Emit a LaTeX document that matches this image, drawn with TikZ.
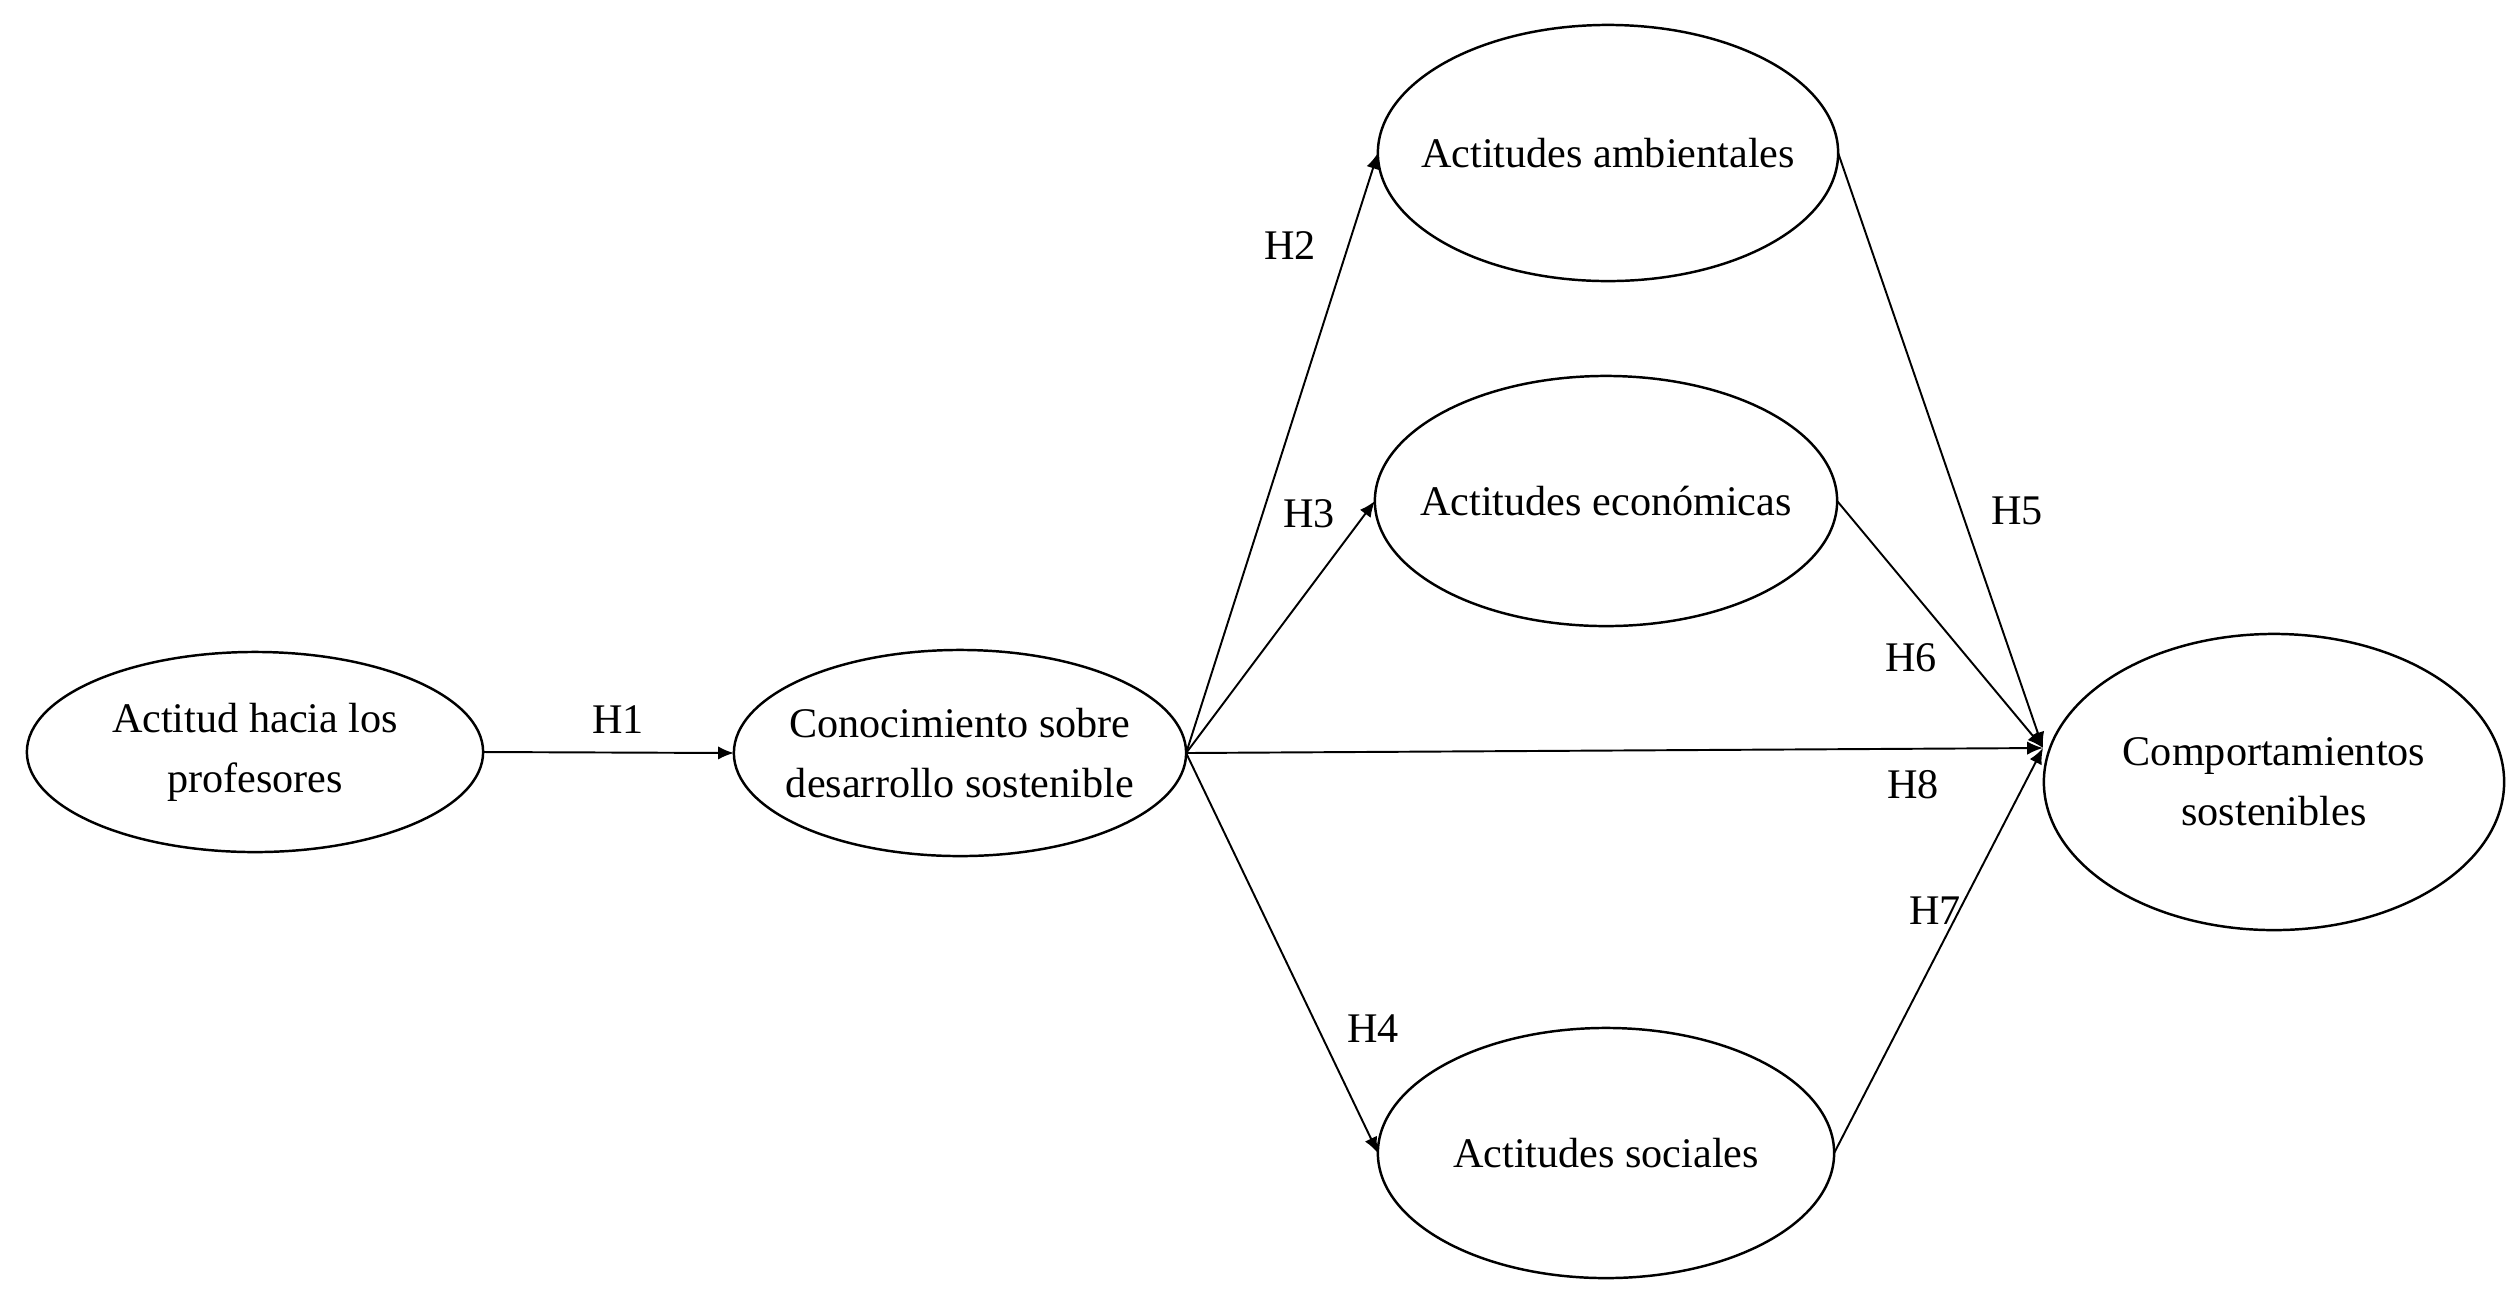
\documentclass[tikz,border=0pt]{standalone}
\usepackage{fontspec}
\setmainfont{Liberation Serif}
\usetikzlibrary{shapes.geometric,arrows.meta}
\begin{document}
\begin{tikzpicture}[x=0.01cm,y=-0.01cm,
  latent/.style={draw,ellipse,line width=0.7pt,inner sep=0pt,outer sep=0pt},
  txt/.style={align=center,inner sep=0pt,font=\fontsize{12}{17}\selectfont},
  path/.style={line width=0.55pt,-{Latex[length=4.5pt,width=3.8pt]}},
  hlab/.style={font=\fontsize{12}{14}\selectfont}]
\useasboundingbox (0,0) rectangle (2518,1299);
\node[latent,minimum width=4.56cm,minimum height=2.00cm,label={[txt]center:Actitud hacia los\\profesores}] (A) at (255,752) {};
\node[latent,minimum width=4.52cm,minimum height=2.06cm,label={[txt]center:Conocimiento sobre\\desarrollo sostenible}] (C) at (960,753) {};
\node[latent,minimum width=4.60cm,minimum height=2.56cm,label={[txt]center:Actitudes ambientales}] (Amb) at (1608,153) {};
\node[latent,minimum width=4.62cm,minimum height=2.50cm,label={[txt]center:Actitudes económicas}] (Eco) at (1606,501) {};
\node[latent,minimum width=4.56cm,minimum height=2.50cm,label={[txt]center:Actitudes sociales}] (Soc) at (1606,1153) {};
\node[latent,minimum width=4.60cm,minimum height=2.96cm,label={[txt]center:Comportamientos\\sostenibles}] (Comp) at (2274,782) {};
\coordinate (conv) at (2043,748);
\draw[path] (A.east) -- (C.west);
\draw[path] (C.east) -- (Amb.west);
\draw[path] (C.east) -- (Eco.west);
\draw[path] (C.east) -- (Soc.west);
\draw[path] (C.east) -- (conv);
\draw[path] (Amb.east) -- (conv);
\draw[path] (Eco.east) -- (conv);
\draw[path] (Soc.east) -- (conv);
\node[hlab] (h1) at (618,720) {H1};
\node[hlab] (h2) at (1290,246) {H2};
\node[hlab] (h3) at (1309,514) {H3};
\node[hlab] (h4) at (1373,1029) {H4};
\node[hlab] (h5) at (2017,511) {H5};
\node[hlab] (h6) at (1911,658) {H6};
\node[hlab] (h8) at (1913,785) {H8};
\node[hlab] (h7) at (1935,911) {H7};
\end{tikzpicture}
\end{document}
